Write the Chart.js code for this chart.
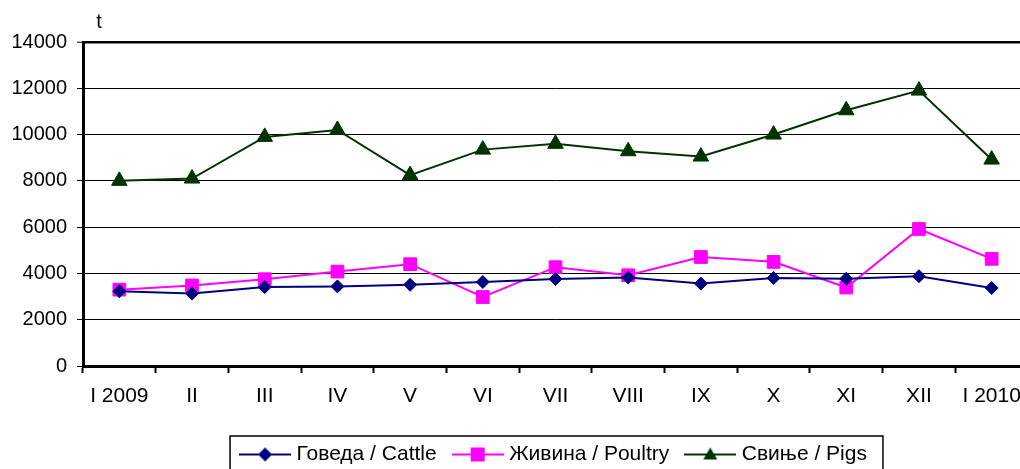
<!DOCTYPE html>
<html>
<head>
<meta charset="utf-8">
<script src="https://cdn.jsdelivr.net/npm/chart.js@4/dist/chart.umd.min.js"></script>
<style>
  html, body { margin: 0; padding: 0; background: #fff; overflow: hidden; }
  #wrap { width: 1040px; height: 469px; }
</style>
</head>
<body>
<div id="wrap"><canvas id="chart" width="1040" height="469"></canvas></div>
<script>
// months, I 2009 .. I 2010
const categories = ['I 2009', 'II', 'III', 'IV', 'V', 'VI', 'VII', 'VIII', 'IX', 'X', 'XI', 'XII', 'I 2010'];
const cattle  = [3230, 3130, 3410, 3440, 3510, 3630, 3760, 3820, 3560, 3800, 3770, 3880, 3370];
const poultry = [3300, 3480, 3750, 4080, 4400, 2980, 4270, 3920, 4710, 4500, 3390, 5920, 4630];
const pigs    = [8000, 8100, 9900, 10200, 8250, 9350, 9600, 9280, 9050, 10000, 11050, 11900, 8920];
const seriesNames = ['Говеда / Cattle', 'Живина / Poultry', 'Свиње / Pigs'];
const yMax = 14000, yStep = 2000;
const unitLabel = 't';

const FONT = '"Liberation Sans", Arial, sans-serif';
const colors = { cattle: '#000080', poultry: '#ff00ff', pigs: '#003300' };

// legend sample: a short line with the marker in the middle
function legendSample(color, shape){
  const c = document.createElement('canvas');
  c.width = 52; c.height = 18;
  const g = c.getContext('2d');
  g.strokeStyle = color; g.fillStyle = color; g.lineWidth = 2;
  g.beginPath(); g.moveTo(0, 9); g.lineTo(52, 9); g.stroke();
  g.beginPath();
  if (shape === 'diamond') { g.moveTo(26, 2); g.lineTo(33, 9); g.lineTo(26, 16); g.lineTo(19, 9); }
  else if (shape === 'square') { g.rect(19, 2, 14, 14); }
  else { g.moveTo(26, 2); g.lineTo(33, 14); g.lineTo(19, 14); }
  g.closePath(); g.fill();
  return c;
}
const samples = [legendSample(colors.cattle, 'diamond'), legendSample(colors.poultry, 'square'), legendSample(colors.pigs, 'triangle')];

const extras = {
  id: 'extras',
  afterDraw(chart){
    const ctx = chart.ctx, ca = chart.chartArea, lg = chart.legend;
    ctx.save();
    ctx.fillStyle = '#000';
    ctx.font = '20px ' + FONT;
    ctx.textAlign = 'center'; ctx.textBaseline = 'middle';
    ctx.fillText(unitLabel, ca.left + 16, ca.top - 20);
    // legend frame
    if (lg && lg.legendHitBoxes && lg.legendHitBoxes.length){
      const hb = lg.legendHitBoxes;
      const last = hb[hb.length - 1];
      const l = hb[0].left - 14, r = last.left + last.width + 16;
      ctx.strokeStyle = '#000'; ctx.lineWidth = 1.5;
      ctx.strokeRect(l, 436, r - l, 60);
    }
    ctx.restore();
  }
};

const ds = (label, data, color, style, radius) => ({
  label, data,
  borderColor: color, backgroundColor: color,
  borderWidth: 2, pointStyle: style, pointRadius: radius, pointHoverRadius: radius,
  pointBorderWidth: 1, tension: 0
});

new Chart(document.getElementById('chart'), {
  type: 'line',
  data: {
    labels: categories,
    datasets: [
      ds(seriesNames[0], cattle, colors.cattle, 'rectRot', 6.5),
      ds(seriesNames[1], poultry, colors.poultry, 'rect', 9),
      ds(seriesNames[2], pigs, colors.pigs, 'triangle', 9),
    ]
  },
  options: {
    responsive: false,
    animation: false,
    layout: { padding: { top: 42, right: 12, left: 0, bottom: -6 } },
    scales: {
      x: {
        offset: true,
        grid: { drawOnChartArea: false, tickLength: 7, tickWidth: 2, tickColor: '#000', offset: true },
        border: { color: '#000', width: 3 },
        ticks: { color: '#000', font: { family: FONT, size: 21 }, padding: 11, maxRotation: 0, autoSkip: false },
        afterFit(s){ s.height = 58; }
      },
      y: {
        min: 0, max: yMax,
        grid: {
          color: '#000',
          lineWidth: c => (c.tick && c.tick.value === yMax ? 2.5 : 1),
          tickLength: 6, tickColor: '#000', tickWidth: 1
        },
        border: { color: '#000', width: 3 },
        ticks: { stepSize: yStep, color: '#000', font: { family: FONT, size: 20 }, padding: 10,
                 callback: v => String(v) },
        afterFit(s){ s.width = 83; }
      }
    },
    plugins: {
      tooltip: { enabled: false },
      legend: {
        position: 'bottom',
        fullSize: false,
        labels: {
          color: '#000',
          font: { family: FONT, size: 21 },
          usePointStyle: true,
          pointStyleWidth: 42,
          padding: 20,
          generateLabels(chart){
            const items = Chart.defaults.plugins.legend.labels.generateLabels(chart);
            items.forEach((it, i) => { it.pointStyle = samples[i]; });
            return items;
          }
        }
      }
    }
  },
  plugins: [extras]
});
</script>
</body>
</html>
